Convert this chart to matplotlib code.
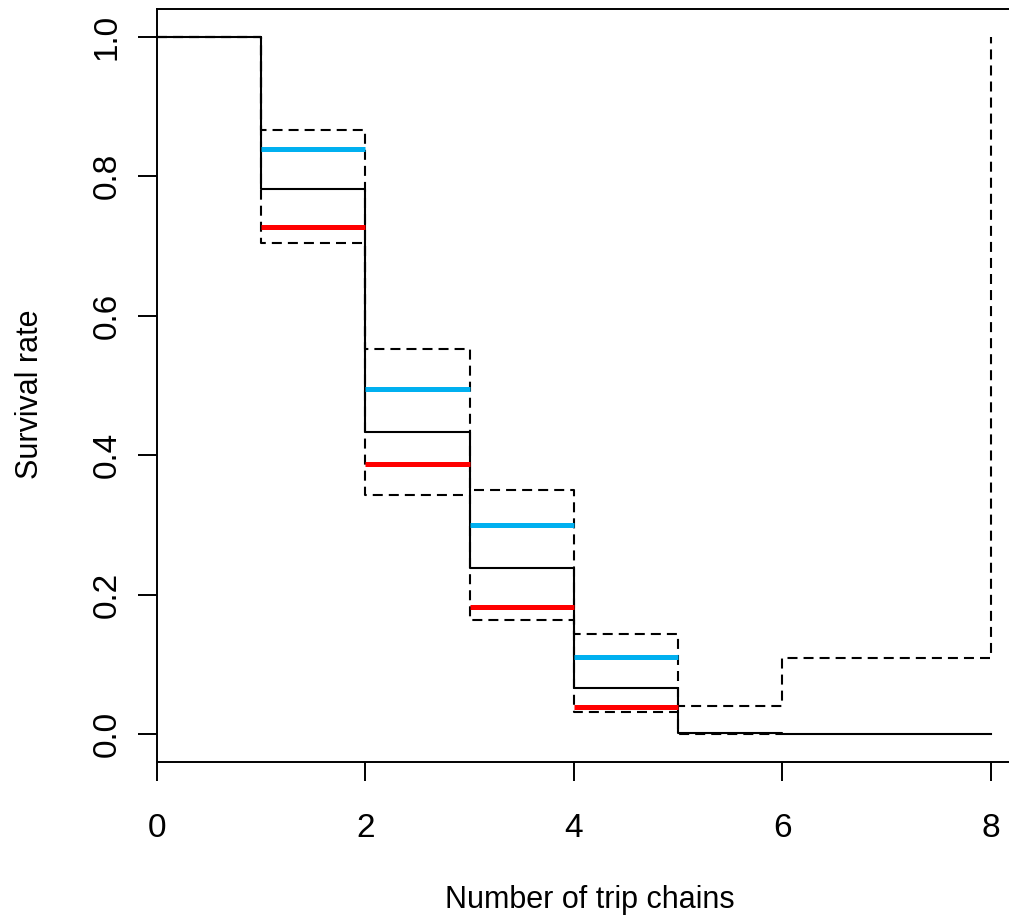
import matplotlib
matplotlib.use("Agg")
import matplotlib.pyplot as plt
import numpy as np

plt.rcParams["font.family"] = ["Liberation Sans", "DejaVu Sans"]

# Kaplan-Meier estimate with confidence band (step "post")
times = [0, 1, 2, 3, 4, 5, 6, 8]
surv = [1.0, 0.782, 0.434, 0.2385, 0.066, 0.0015, 0.0, 0.0]
upper = [1.0, 0.866, 0.552, 0.3506, 0.1437, 0.0402, 0.109, 1.0]
lower = [1.0, 0.704, 0.3424, 0.1638, 0.031, 0.0005, np.nan, np.nan]

# comparison segments per interval
seg_start = [1, 2, 3, 4]
seg_end = [2, 3, 4, 5]
blue_vals = [0.8395, 0.495, 0.2997, 0.110]
red_vals = [0.7274, 0.387, 0.1825, 0.0392]

xticks = [0, 2, 4, 6, 8]
yticks = [0.0, 0.2, 0.4, 0.6, 0.8, 1.0]

W, H = 1009, 918
fig = plt.figure(figsize=(W / 100, H / 100), dpi=100)
ax = fig.add_axes([157 / W, 1 - 762 / H, (1024 - 157) / W, (762 - 9) / H])

ax.step(times, surv, where="post", color="black", lw=1.5, zorder=3)
for band in (upper, lower):
    ax.step(times, band, where="post", color="black", lw=1.5,
            dashes=(4.8, 2.9), zorder=2)

ax.hlines(blue_vals, seg_start, seg_end, color="#00B0F0", lw=3.6, zorder=4)
ax.hlines(red_vals, seg_start, seg_end, color="#FF0000", lw=3.6, zorder=4)

ax.set_xlim(0, 8.32)
ax.set_ylim(-0.04, 1.04)
ax.set_xticks(xticks)
ax.set_xticklabels([str(t) for t in xticks])
ax.set_yticks(yticks)
ax.set_yticklabels([f"{t:.1f}" for t in yticks])

for s in ax.spines.values():
    s.set_linewidth(1.4)
ax.tick_params(axis="both", length=13.7, width=1.4, labelsize=24, color="black")
ax.tick_params(axis="x", pad=23)
ax.tick_params(axis="y", pad=11)
plt.setp(ax.get_yticklabels(), rotation=90, va="center", ha="right")

fig.text(590 / W, 1 - 900 / H, "Number of trip chains", fontsize=22,
         ha="center", va="center")
fig.text(30 / W, 1 - 394 / H, "Survival rate", fontsize=22, rotation=90,
         ha="center", va="center")

fig.savefig("out.png", dpi=100)
